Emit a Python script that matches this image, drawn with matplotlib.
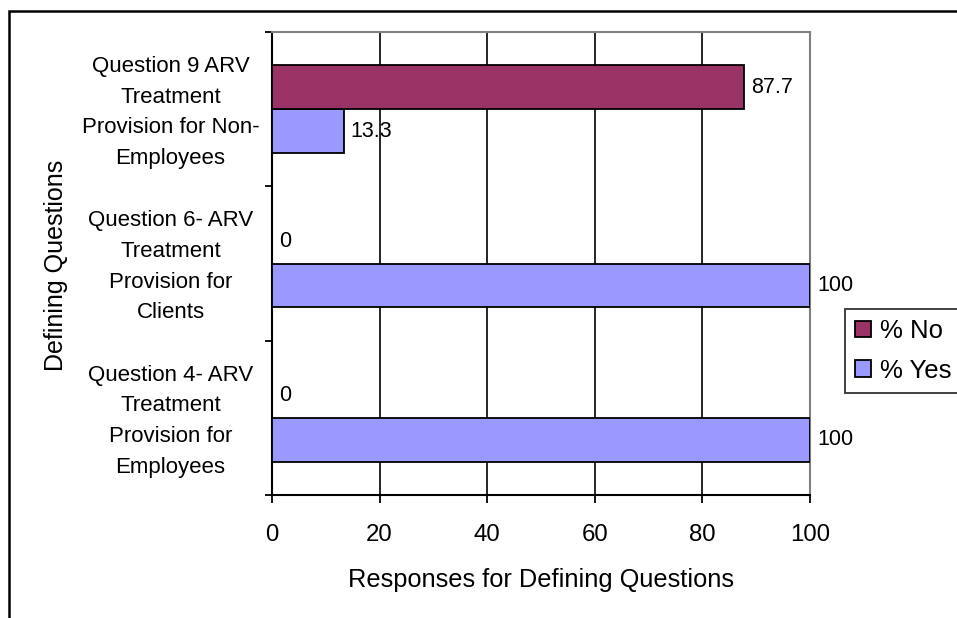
import matplotlib
matplotlib.use("Agg")
import matplotlib.pyplot as plt
from matplotlib.patches import Rectangle
from matplotlib.transforms import ScaledTranslation
import numpy as np

plt.rcParams['font.family'] = ['Liberation Sans', 'DejaVu Sans']

categories = [
    "Question 4- ARV\nTreatment\nProvision for\nEmployees",
    "Question 6- ARV\nTreatment\nProvision for\nClients",
    "Question 9 ARV\nTreatment\nProvision for Non-\nEmployees",
]
pct_yes = [100, 100, 13.3]
pct_no = [0, 0, 87.7]
x_ticks = [0, 20, 40, 60, 80, 100]

color_no = "#993366"
color_yes = "#9999FF"

fig = plt.figure(figsize=(9.57, 6.18), dpi=100)
ax = fig.add_axes([272 / 957, 1 - 495 / 618, (810 - 272) / 957, (495 - 32) / 618])

y = np.arange(len(categories))
h = 0.285
bars_yes = ax.barh(y - h / 2, pct_yes, height=h, color=color_yes,
                   edgecolor="black", linewidth=1.3, label="% Yes", zorder=3)
bars_no = ax.barh(y + h / 2, pct_no, height=h, color=color_no,
                  edgecolor="black", linewidth=1.3, label="% No", zorder=3)

for bars, vals in ((bars_yes, pct_yes), (bars_no, pct_no)):
    for b, v in zip(bars, vals):
        ax.annotate(f"{v:g}", xy=(v, b.get_y() + b.get_height() / 2),
                    xytext=(5, 0), textcoords="offset points",
                    ha="left", va="center", fontsize=15.5, zorder=4)

ax.set_xlim(0, 100)
ax.set_ylim(-0.5, len(categories) - 0.5)
ax.set_xticks(x_ticks)
ax.set_xticklabels([str(t) for t in x_ticks])
ax.grid(axis="x", color="black", linewidth=1.2, zorder=1)

# category boundaries carry the tick marks, centers carry the labels
ax.set_yticks(np.arange(-0.5, len(categories), 1.0))
ax.set_yticklabels([])
ax.set_yticks(y, minor=True)
ax.set_yticklabels(categories, minor=True, ha="center", fontsize=16,
                   linespacing=1.6)
ax.tick_params(axis="y", which="minor", length=0, pad=73)
ax.tick_params(axis="y", which="major", length=5, width=1.3, direction="out")
ax.tick_params(axis="x", which="major", length=6, width=1.3, direction="out",
               labelsize=17.3, pad=15)
lift = ScaledTranslation(0, 4 / 100, fig.dpi_scale_trans)
for lbl in ax.get_yticklabels(minor=True):
    lbl.set_transform(lbl.get_transform() + lift)

for side in ("left", "bottom"):
    ax.spines[side].set_color("black")
    ax.spines[side].set_linewidth(1.5)
for side in ("top", "right"):
    ax.spines[side].set_color("#808080")
    ax.spines[side].set_linewidth(1.5)

ax.set_xlabel("Responses for Defining Questions", fontsize=18.3, labelpad=16)
fig.text(56 / 957, 1 - 265 / 618, "Defining Questions", rotation=90,
         ha="center", va="center", fontsize=18)

leg = fig.legend(handles=[bars_no, bars_yes], labels=["% No", "% Yes"],
                 loc="upper left", bbox_to_anchor=(845 / 957, 1 - 309 / 618),
                 fontsize=18.5, frameon=True, fancybox=False, shadow=False,
                 handlelength=0.6, handleheight=0.6, handletextpad=0.35,
                 borderpad=0.4, labelspacing=0.6, borderaxespad=0)
leg.get_frame().set_edgecolor("black")
leg.get_frame().set_linewidth(1.3)

# outer chart frame, running off the right and bottom edges
fig.patches.append(Rectangle((9 / 957, -0.1), 1.2, 1 - 11 / 618 + 0.1,
                             transform=fig.transFigure, fill=False,
                             edgecolor="black", linewidth=1.8))

fig.savefig("out.png", dpi=100)
